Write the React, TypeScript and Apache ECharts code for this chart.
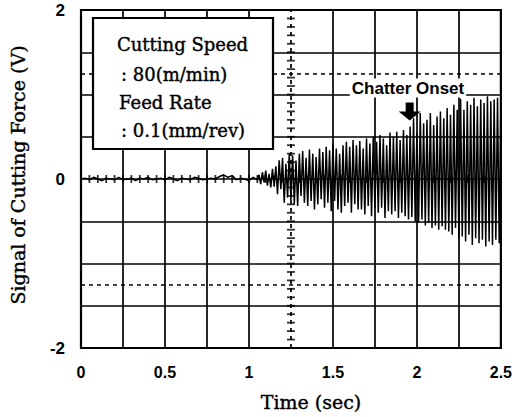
import React, { useEffect, useRef } from "react";
import * as echarts from "echarts";

// Quiet cutting before chatter: sampled every 0.025 s from t = 0 to 1.05 s (V)
const quietStep = 0.025;
const quietSignal = [
  0.0, 0.01, -0.01, 0.02, 0.0, -0.02, 0.01, 0.0, -0.01, 0.02,
  -0.01, 0.0, 0.01, -0.02, 0.01, 0.0, 0.02, -0.01, 0.0, 0.01,
  -0.01, 0.02, 0.0, -0.02, 0.01, 0.0, -0.01, 0.02, 0.01, -0.01,
  0.0, 0.01, 0.0, 0.03, 0.05, 0.02, 0.04, -0.01, 0.01, 0.0,
  -0.02, 0.02, -0.01,
];

// Growing vibration: sampled every 0.01 s from t = 1.06 to 2.50 s (V)
const chatterStart = 1.06;
const chatterStep = 0.01;
const chatterSignal = [
  0.05, -0.06, 0.08, -0.04, 0.1, -0.08, 0.06, -0.1, 0.12, -0.09,
  0.15, -0.18, 0.22, -0.12, 0.25, -0.28, 0.18, -0.22, 0.3, -0.25,
  0.28, -0.3, 0.22, -0.32, 0.3, -0.2, 0.33, -0.28, 0.25, -0.32,
  0.35, -0.26, 0.3, -0.36, 0.26, -0.3, 0.36, -0.24, 0.32, -0.34,
  0.38, -0.28, 0.34, -0.38, 0.42, -0.26, 0.36, -0.36, 0.3, -0.4,
  0.4, -0.32, 0.44, -0.28, 0.38, -0.4, 0.46, -0.3, 0.4, -0.36,
  0.45, -0.36, 0.36, -0.42, 0.48, -0.32, 0.42, -0.44, 0.5, -0.34,
  0.44, -0.4, 0.52, -0.34, 0.48, -0.46, 0.4, -0.38, 0.55, -0.42,
  0.5, -0.38, 0.56, -0.46, 0.46, -0.4, 0.58, -0.44, 0.52, -0.48,
  0.62, -0.45, 0.72, -0.5, 0.55, -0.52, 0.78, -0.48, 0.66, -0.55,
  0.7, -0.52, 0.78, -0.58, 0.64, -0.55, 0.74, -0.6, 0.8, -0.56,
  0.72, -0.6, 0.84, -0.62, 0.76, -0.66, 0.88, -0.58, 0.82, -0.7,
  0.95, -0.68, 0.82, -0.74, 0.92, -0.66, 0.88, -0.78, 0.96, -0.7,
  0.86, -0.76, 0.94, -0.72, 0.9, -0.8, 0.98, -0.74, 0.92, -0.78,
  0.94, -0.72, 0.96, -0.76, 0.9,
];

// Tick labels shown on the axes
const xTickLabels = [0, 0.5, 1, 1.5, 2, 2.5];
const yTickLabels = [-2, 0, 2];

// Graticule lines
const solidGridX = [0.25, 0.5, 0.75, 1, 1.5, 1.75, 2, 2.25];
const dashedGridX = [1.25];
const solidGridY = [-1.5, -1, -0.5, 0, 0.5, 1, 1.5];
const dashedGridY = [-1.25, 1.25];

// Centre-line graduations (time every 0.05 s, voltage every 0.1 V)
const centreTimeStep = 0.05;
const centreVoltStep = 0.1;

// Where chatter sets in (s, V position of the arrow)
const chatterOnset = [1.957, 0.8];

const round = (v: number) => Math.round(v * 1000) / 1000;

const arrowPath = "path://M7,0 L15,0 L15,9 L22,9 L11,18 L0,9 L7,9 Z";

export default function App() {
  const ref = useRef<HTMLDivElement>(null);

  useEffect(() => {
    if (!ref.current) return;
    const chart = echarts.init(ref.current, undefined, { renderer: "svg" });

    const signal: number[][] = [];
    quietSignal.forEach((v, i) => signal.push([round(i * quietStep), v]));
    chatterSignal.forEach((v, i) =>
      signal.push([round(chatterStart + i * chatterStep), v])
    );

    const timeTicks: number[][] = [];
    for (let i = 0; i <= Math.round(2.5 / centreTimeStep); i++) {
      timeTicks.push([round(i * centreTimeStep), 0]);
    }
    const voltTicks: number[][] = [];
    for (let i = 0; i <= Math.round(4 / centreVoltStep); i++) {
      voltTicks.push([dashedGridX[0], round(-2 + i * centreVoltStep)]);
    }

    const solidStyle = { color: "#000", width: 1.7, type: "solid" as const };
    const dashedStyle = { color: "#000", width: 1.7, type: [4, 4] as any };

    const gridLines = [
      ...solidGridX.map((x) => ({ xAxis: x, lineStyle: solidStyle })),
      ...dashedGridX.map((x) => ({ xAxis: x, lineStyle: dashedStyle })),
      ...solidGridY.map((y) => ({ yAxis: y, lineStyle: solidStyle })),
      ...dashedGridY.map((y) => ({ yAxis: y, lineStyle: dashedStyle })),
    ];

    const serif = "DejaVu Serif";
    const sans = "Liberation Sans";
    const heavy = { stroke: "#000", lineWidth: 0.4 };

    chart.setOption({
      animation: false,
      backgroundColor: "#fff",
      grid: {
        left: 81,
        right: 6,
        top: 10,
        bottom: 69,
        show: true,
        borderColor: "#000",
        borderWidth: 2.2,
        backgroundColor: "transparent",
      },
      xAxis: {
        type: "value",
        min: 0,
        max: 2.5,
        interval: 0.25,
        axisLine: { show: false },
        axisTick: { show: false },
        splitLine: { show: false },
        axisLabel: {
          margin: 16,
          color: "#000",
          fontFamily: sans,
          fontWeight: "bold",
          fontSize: 16,
          showMinLabel: true,
          showMaxLabel: true,
          formatter: (v: number) =>
            xTickLabels.some((t) => Math.abs(t - v) < 1e-6) ? String(v) : "",
        },
      },
      yAxis: {
        type: "value",
        min: -2,
        max: 2,
        interval: 0.5,
        axisLine: { show: false },
        axisTick: { show: false },
        splitLine: { show: false },
        axisLabel: {
          margin: 16,
          color: "#000",
          fontFamily: sans,
          fontWeight: "bold",
          fontSize: 17,
          formatter: (v: number) =>
            yTickLabels.some((t) => Math.abs(t - v) < 1e-6) ? String(v) : "",
        },
      },
      series: [
        {
          name: "graticule",
          type: "line",
          data: [],
          z: 1,
          silent: true,
          markLine: {
            silent: true,
            symbol: "none",
            label: { show: false },
            data: gridLines,
          },
        },
        {
          name: "time graduations",
          type: "scatter",
          data: timeTicks,
          symbol: "rect",
          symbolSize: [1.8, 8],
          itemStyle: { color: "#000" },
          z: 2,
          silent: true,
        },
        {
          name: "voltage graduations",
          type: "scatter",
          data: voltTicks,
          symbol: "rect",
          symbolSize: [8, 1.8],
          itemStyle: { color: "#000" },
          z: 2,
          silent: true,
        },
        {
          name: "Signal of Cutting Force",
          type: "line",
          data: signal,
          showSymbol: false,
          lineStyle: { color: "#000", width: 1.5 },
          z: 3,
          markPoint: {
            silent: true,
            symbol: arrowPath,
            symbolSize: [22, 18],
            itemStyle: { color: "#000" },
            label: { show: false },
            data: [{ coord: chatterOnset }],
          },
        },
      ],
      graphic: [
        {
          type: "rect",
          shape: { x: 93, y: 18, width: 180, height: 131 },
          style: { fill: "#fff", stroke: "#000", lineWidth: 2.2 },
          z: 10,
        },
        {
          type: "text",
          x: 117,
          y: 44,
          style: {
            text: "Cutting Speed",
            font: `18px "${serif}"`,
            fill: "#000",
            verticalAlign: "middle",
            ...heavy,
          },
          z: 11,
        },
        {
          type: "text",
          x: 121,
          y: 74,
          style: {
            text: ": 80(m/min)",
            font: `18px "${serif}"`,
            fill: "#000",
            verticalAlign: "middle",
            ...heavy,
          },
          z: 11,
        },
        {
          type: "text",
          x: 119,
          y: 102,
          style: {
            text: "Feed Rate",
            font: `18px "${serif}"`,
            fill: "#000",
            verticalAlign: "middle",
            ...heavy,
          },
          z: 11,
        },
        {
          type: "text",
          x: 121,
          y: 130,
          style: {
            text: ": 0.1(mm/rev)",
            font: `18px "${serif}"`,
            fill: "#000",
            verticalAlign: "middle",
            ...heavy,
          },
          z: 11,
        },
        {
          type: "text",
          x: 408,
          y: 88,
          style: {
            text: "Chatter Onset",
            font: `bold 17px "${sans}"`,
            fill: "#000",
            align: "center",
            verticalAlign: "middle",
            backgroundColor: "#fff",
            padding: [1, 2],
          },
          z: 11,
        },
        {
          type: "text",
          x: 311,
          y: 402,
          style: {
            text: "Time (sec)",
            font: `19px "${serif}"`,
            fill: "#000",
            align: "center",
            verticalAlign: "middle",
            ...heavy,
          },
        },
        {
          type: "text",
          x: 18,
          y: 175,
          rotation: Math.PI / 2,
          style: {
            text: "Signal of Cutting Force (V)",
            font: `19px "${serif}"`,
            fill: "#000",
            align: "center",
            verticalAlign: "middle",
            ...heavy,
          },
        },
      ],
    });

    return () => chart.dispose();
  }, []);

  return (
    <div
      ref={ref}
      style={{ position: "absolute", left: 0, top: 0, width: 515, height: 417 }}
    />
  );
}
